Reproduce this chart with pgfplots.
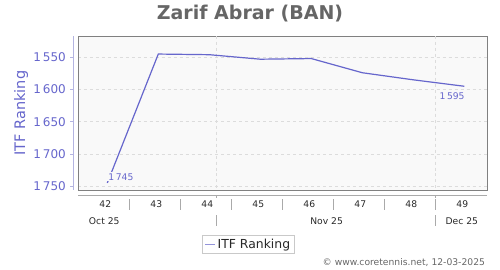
\documentclass[border=0pt]{standalone}
\usepackage{fontspec}
\setmainfont{DejaVu Sans}
\usepackage{pgfplots}
\pgfplotsset{compat=1.18}
\definecolor{plotbg}{RGB}{249,249,249}
\definecolor{framegray}{RGB}{128,128,128}
\definecolor{gridgray}{RGB}{220,220,220}
\definecolor{linecol}{RGB}{102,102,204}
\definecolor{textcol}{RGB}{102,102,204}
\definecolor{yaxcol}{RGB}{180,180,225}
\definecolor{sepgray}{RGB}{170,170,170}
\definecolor{titlegray}{RGB}{102,102,102}
\definecolor{darktext}{RGB}{40,40,40}
\begin{document}
\begin{tikzpicture}
\useasboundingbox (0,0) rectangle (500bp,-270bp);
\node[anchor=base, font=\bfseries\fontsize{19bp}{22bp}\selectfont, text=titlegray] at (250bp,-19.5bp) {Zarif Abrar (BAN)};
\node[rotate=90, anchor=center, font=\fontsize{14.5bp}{17bp}\selectfont, text=textcol] at (21bp,-113bp) {ITF Ranking};
\node[anchor=base east, font=\fontsize{9.2bp}{11bp}\selectfont, text=titlegray] at (488.5bp,-265.5bp) {© www.coretennis.net, 12-03-2025};
\begin{axis}[
  scale only axis, width=409bp, height=154bp,
  at={(78bp,-190bp)}, anchor=south west,
  xmin=-0.5745, xmax=7.445,
  ymin=1517, ymax=1756, y dir=reverse,
  axis background/.style={fill=plotbg},
  axis line style={framegray, line width=0.8bp},
  xtick={-0.04,0.96,1.96,2.96,3.96,4.96,5.96,6.96},
  xticklabels={42,43,44,45,46,47,48,49},
  xticklabel style={font=\fontsize{9.2bp}{11bp}\selectfont, text=darktext, anchor=base, inner sep=0pt, yshift=-17.3bp},
  extra x ticks={2.145,6.44},
  extra x tick labels={},
  extra x tick style={grid=major},
  ytick={1550,1600,1650,1700,1750},
  ymajorgrids,
  grid style={dashed, gridgray, line width=0.5bp},
  yticklabel style={font=\fontsize{12bp}{14bp}\selectfont, text=textcol, anchor=east, inner sep=0pt, xshift=-12bp},
  /pgf/number format/assume math mode=true,
  /pgf/number format/1000 sep={\,},
  tick style={draw=none},
  clip=false,
  legend style={at={(0.4164,-0.292)}, anchor=north, draw=gridgray!80!gray, fill=white, font=\fontsize{12.4bp}{14bp}\selectfont, text=darktext, inner xsep=2bp, inner ysep=1.5bp, cells={anchor=west}},
  legend image code/.code={\draw[linecol!70!white, line width=1.2bp] (0bp,0bp) -- (10bp,0bp);},
]
\addplot[linecol, line width=1.2bp, mark=none] coordinates {
(0,1745) (1,1545) (2,1546) (3,1553) (4,1552) (5,1574) (6,1585) (7,1595)};
\addlegendentry{ITF Ranking}
\addplot[draw=none, mark=none, forget plot, nodes near coords, point meta=explicit symbolic,
  every node near coord/.append style={anchor=south west, fill=plotbg, inner sep=1bp, font=\fontsize{9.2bp}{11bp}\selectfont, text=textcol, xshift=0bp, yshift=1.5bp}]
  coordinates {(0,1745) [1\,745]};
\addplot[draw=none, mark=none, forget plot, nodes near coords, point meta=explicit symbolic,
  every node near coord/.append style={anchor=north east, inner sep=1bp, font=\fontsize{9.2bp}{11bp}\selectfont, text=textcol, xshift=1.5bp, yshift=-5bp}]
  coordinates {(7,1595) [1\,595]};
% y axis line shifted left
\draw[yaxcol, line width=0.8bp] ([xshift=-5bp]axis cs:-0.5745,1517) -- ([xshift=-5bp]axis cs:-0.5745,1756);
\pgfplotsinvokeforeach{1550,1600,1650,1700,1750}{
  \draw[yaxcol, line width=0.8bp] ([xshift=-5bp]axis cs:-0.5745,#1) -- ([xshift=-8bp]axis cs:-0.5745,#1);
}
% bottom time axis
\draw[sepgray, line width=0.8bp] ([yshift=-5bp]axis cs:-0.5745,1756) -- ([yshift=-5bp]axis cs:7.445,1756);
\pgfplotsinvokeforeach{0.43,1.43,2.43,3.43,4.43,5.43,6.43}{
  \draw[sepgray, line width=0.8bp] ([yshift=-9bp]axis cs:#1,1756) -- ([yshift=-20bp]axis cs:#1,1756);
}
\pgfplotsinvokeforeach{2.145,6.44}{
  \draw[sepgray, line width=0.8bp] ([yshift=-5bp]axis cs:#1,1756) -- ([yshift=-7.5bp]axis cs:#1,1756);
  \draw[sepgray, line width=0.8bp] ([yshift=-25bp]axis cs:#1,1756) -- ([yshift=-36bp]axis cs:#1,1756);
}
\node[anchor=base, font=\fontsize{9.2bp}{11bp}\selectfont, text=darktext] at ([yshift=-34bp]axis cs:-0.06,1756) {Oct 25};
\node[anchor=base, font=\fontsize{9.2bp}{11bp}\selectfont, text=darktext] at ([yshift=-34bp]axis cs:4.30,1756) {Nov 25};
\node[anchor=base, font=\fontsize{9.2bp}{11bp}\selectfont, text=darktext] at ([yshift=-34bp]axis cs:6.95,1756) {Dec 25};
\end{axis}
\end{tikzpicture}
\end{document}
